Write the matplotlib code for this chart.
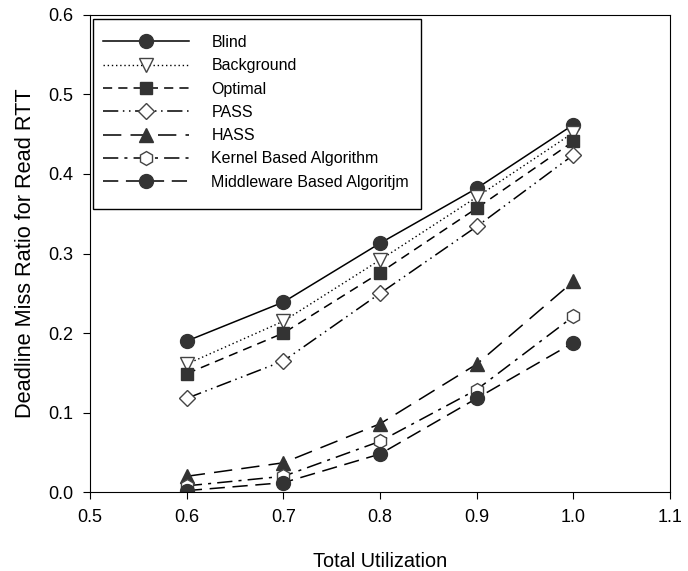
import numpy as np
import matplotlib.pyplot as plt
from matplotlib.patches import Rectangle

plt.rcParams["font.family"] = ["Liberation Sans", "DejaVu Sans"]

# data
utilization = [0.6, 0.7, 0.8, 0.9, 1.0]

blind = [0.190, 0.239, 0.313, 0.382, 0.462]
background = [0.161, 0.215, 0.292, 0.371, 0.452]
optimal = [0.149, 0.200, 0.276, 0.357, 0.441]
pass_ = [0.118, 0.165, 0.250, 0.334, 0.424]
hass = [0.020, 0.037, 0.086, 0.161, 0.265]
kernel = [0.008, 0.020, 0.064, 0.129, 0.221]
middleware = [0.002, 0.012, 0.048, 0.118, 0.188]

labels = ["Blind", "Background", "Optimal", "PASS", "HASS",
          "Kernel Based Algorithm", "Middleware Based Algoritjm"]

fig = plt.figure(figsize=(6.88, 5.71), dpi=100)
ax = fig.add_axes([0.131, 0.138, 0.843, 0.836])

dark = "#333333"
ms = 10

ax.plot(utilization, blind, linestyle="solid", color="black", lw=1.1,
        marker="o", ms=ms, mfc=dark, mec=dark, label=labels[0])
ax.plot(utilization, background, linestyle=(0, (1, 2)), color="black", lw=1.0,
        marker="v", ms=ms, mfc="white", mec="#444444", label=labels[1])
ax.plot(utilization, optimal, linestyle=(0, (6, 4)), color="black", lw=1.1,
        marker="s", ms=ms - 1, mfc=dark, mec=dark, label=labels[2])
ax.plot(utilization, pass_, linestyle=(0, (10, 3, 1, 3, 1, 3)), color="black", lw=1.1,
        marker="D", ms=ms - 2, mfc="white", mec="#444444", label=labels[3])
ax.plot(utilization, hass, linestyle=(0, (12, 6)), color="black", lw=1.1,
        marker="^", ms=ms, mfc=dark, mec=dark, label=labels[4])
ax.plot(utilization, kernel, linestyle=(0, (10, 4, 2, 4)), color="black", lw=1.1,
        marker="h", ms=ms, mfc="white", mec="#444444", label=labels[5])
ax.plot(utilization, middleware, linestyle=(0, (10, 5)), color="black", lw=1.1,
        marker="o", ms=ms, mfc=dark, mec=dark, label=labels[6])

ax.set_xlim(0.5, 1.1)
ax.set_ylim(0.0, 0.6)
ax.set_xticks(np.arange(0.5, 1.11, 0.1))
ax.set_yticks(np.arange(0.0, 0.61, 0.1))
ax.set_xticklabels(["0.5", "0.6", "0.7", "0.8", "0.9", "1.0", "1.1"])
ax.set_yticklabels(["0.0", "0.1", "0.2", "0.3", "0.4", "0.5", "0.6"])
ax.tick_params(direction="out", length=5, labelsize=13, pad=7)

ax.set_xlabel("Total Utilization", fontsize=14.3, labelpad=19)
ax.set_ylabel("Deadline Miss Ratio for Read RTT", fontsize=15.7, labelpad=9)

# legend entries without frame, the box is drawn separately (taller than wide padding)
leg = ax.legend(loc="upper left", bbox_to_anchor=(0.022, 0.958), fontsize=11.5,
                handlelength=5.4, handletextpad=1.4, labelspacing=0.52,
                frameon=False, borderpad=0.0, borderaxespad=0.0)
ax.add_patch(Rectangle((0.005, 0.593), 0.5655, 0.398, transform=ax.transAxes,
                       facecolor="white", edgecolor="black", lw=1.0, zorder=4.9))
leg.set_zorder(5)

plt.savefig("out.png", dpi=100)
